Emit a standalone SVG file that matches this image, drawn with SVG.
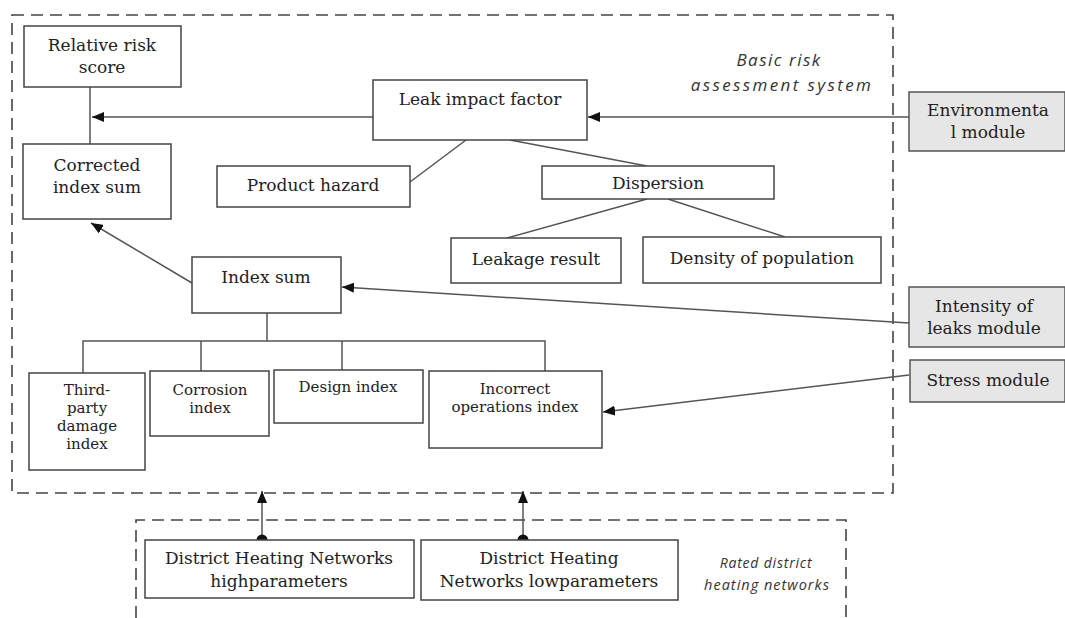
<svg xmlns="http://www.w3.org/2000/svg" width="1065" height="618" viewBox="0 0 1065 618">
<defs>
<marker id="arr" viewBox="0 0 12 10" refX="12" refY="5" markerWidth="12" markerHeight="10" markerUnits="userSpaceOnUse" orient="auto"><path d="M0,0 L12,5 L0,10 Z" fill="#111"/></marker>
<marker id="dot" viewBox="0 0 12 12" refX="6" refY="6" markerWidth="12" markerHeight="12" markerUnits="userSpaceOnUse"><circle cx="6" cy="6" r="5.5" fill="#111"/></marker>
</defs>
<style>
.box{fill:#fff;stroke:#444;stroke-width:1.5}
.mod{fill:#e6e6e6;stroke:#555;stroke-width:1.5}
.dash{fill:none;stroke:#444;stroke-width:1.6;stroke-dasharray:12 7}
.ln{fill:none;stroke:#555;stroke-width:1.5}
.t{font-family:"DejaVu Serif",serif;font-size:17px;fill:#222;text-anchor:middle}
.s{font-size:15px}
.it{font-family:"Open Sans","DejaVu Sans",sans-serif;font-style:italic;fill:#333;text-anchor:middle}
</style>
<rect width="1065" height="618" fill="#fff"/>
<g id="containers">
<rect class="dash" x="12" y="15" width="881" height="478"/>
<path class="dash" d="M136,618 L136,520 L846,520 L846,618"/>
<text class="it" x="779" y="66" font-size="17" letter-spacing="1.5">Basic risk</text>
<text class="it" x="782" y="91" font-size="17" letter-spacing="2.4">assessment system</text>
<text class="it" x="766" y="568" font-size="14" letter-spacing="0.8">Rated district</text>
<text class="it" x="767" y="590" font-size="14.5" letter-spacing="1">heating networks</text>
</g>
<g id="connectors">
<line class="ln" x1="90" y1="87" x2="90" y2="144"/>
<line class="ln" x1="373" y1="117" x2="92" y2="117" marker-end="url(#arr)"/>
<line class="ln" x1="909" y1="117" x2="588" y2="117" marker-end="url(#arr)"/>
<line class="ln" x1="466" y1="140" x2="410" y2="182"/>
<line class="ln" x1="510" y1="140" x2="647" y2="166"/>
<line class="ln" x1="647" y1="199" x2="507" y2="238"/>
<line class="ln" x1="668" y1="199" x2="785" y2="237"/>
<line class="ln" x1="192" y1="283" x2="91" y2="223" marker-end="url(#arr)"/>
<line class="ln" x1="909" y1="323" x2="342" y2="287" marker-end="url(#arr)"/>
<line class="ln" x1="909" y1="375" x2="603" y2="412" marker-end="url(#arr)"/>
<path class="ln" d="M267,313 L267,341 M83,373 L83,341 L545,341 L545,371 M201,341 L201,371 M342,341 L342,370"/>
<line class="ln" x1="262" y1="540" x2="262" y2="491" marker-start="url(#dot)" marker-end="url(#arr)"/>
<line class="ln" x1="523" y1="540" x2="523" y2="491" marker-start="url(#dot)" marker-end="url(#arr)"/>
</g>
<g id="relative-risk-score"><rect class="box" x="24" y="26" width="157" height="61"/><text class="t" x="102" y="51" font-size="19">Relative risk</text><text class="t" x="102" y="73" font-size="19">score</text></g>
<g id="corrected-index-sum"><rect class="box" x="23" y="144" width="148" height="75"/><text class="t" x="97" y="171" font-size="18.8">Corrected</text><text class="t" x="97" y="193" font-size="18.8">index sum</text></g>
<g id="leak-impact-factor"><rect class="box" x="373" y="80" width="214" height="60"/><text class="t" x="480" y="105" font-size="18.8">Leak impact factor</text></g>
<g id="product-hazard"><rect class="box" x="217" y="166" width="193" height="41"/><text class="t" x="313" y="191" font-size="17">Product hazard</text></g>
<g id="dispersion"><rect class="box" x="542" y="166" width="232" height="33"/><text class="t" x="658" y="189" font-size="16.7">Dispersion</text></g>
<g id="leakage-result"><rect class="box" x="451" y="238" width="170" height="45"/><text class="t" x="536" y="265" font-size="16.5">Leakage result</text></g>
<g id="density-of-population"><rect class="box" x="643" y="237" width="238" height="46"/><text class="t" x="762" y="264" font-size="17.6">Density of population</text></g>
<g id="environmental-module"><rect class="mod" x="909" y="92" width="156" height="59"/><text class="t" x="988" y="116">Environmenta</text><text class="t" x="988" y="138">l module</text></g>
<g id="index-sum"><rect class="box" x="192" y="257" width="149" height="56"/><text class="t" x="266" y="283" font-size="19">Index sum</text></g>
<g id="intensity-of-leaks-module"><rect class="mod" x="909" y="287" width="156" height="60"/><text class="t" x="984" y="312" font-size="17.4">Intensity of</text><text class="t" x="984" y="334" font-size="17.4">leaks module</text></g>
<g id="stress-module"><rect class="mod" x="910" y="360" width="155" height="42"/><text class="t" x="988" y="386" font-size="16.6">Stress module</text></g>
<g id="third-party-damage-index"><rect class="box" x="29" y="373" width="116" height="97"/><text class="t s" x="87" y="395">Third-</text><text class="t s" x="87" y="413">party</text><text class="t s" x="87" y="431">damage</text><text class="t s" x="87" y="449">index</text></g>
<g id="corrosion-index"><rect class="box" x="150" y="371" width="119" height="65"/><text class="t s" x="210" y="395">Corrosion</text><text class="t s" x="210" y="413">index</text></g>
<g id="design-index"><rect class="box" x="274" y="370" width="149" height="53"/><text class="t s" x="348" y="392">Design index</text></g>
<g id="incorrect-operations-index"><rect class="box" x="429" y="371" width="173" height="77"/><text class="t s" x="515" y="394">Incorrect</text><text class="t s" x="515" y="412">operations index</text></g>
<g id="dhn-high"><rect class="box" x="145" y="540" width="269" height="58"/><text class="t" x="279" y="564" font-size="17.2">District Heating Networks</text><text class="t" x="279" y="587" font-size="17.2">highparameters</text></g>
<g id="dhn-low"><rect class="box" x="421" y="540" width="257" height="60"/><text class="t" x="549" y="564" font-size="17.2">District Heating</text><text class="t" x="549" y="587" font-size="17.2">Networks lowparameters</text></g>
</svg>
